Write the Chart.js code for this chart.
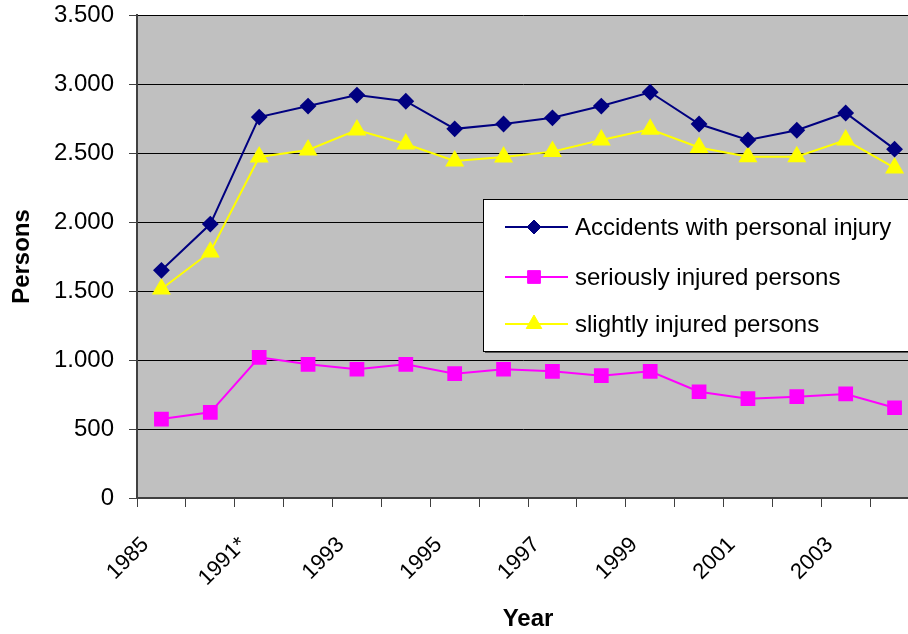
<!DOCTYPE html>
<html>
<head>
<meta charset="utf-8">
<script src="https://cdn.jsdelivr.net/npm/chart.js@4/dist/chart.umd.min.js"></script>
<style>
  html, body { margin: 0; padding: 0; background: #fff; overflow: hidden; }
  #wrap { width: 908px; height: 634px; }
</style>
</head>
<body>
<div id="wrap"><canvas id="myChart"></canvas></div>
<script>
var years = ['1985', '1990', '1991*', '1992', '1993', '1994', '1995', '1996', '1997', '1998', '1999', '2000', '2001', '2002', '2003', '2004'];
var accidents = [1650, 1985, 2760, 2840, 2920, 2875, 2675, 2710, 2755, 2840, 2940, 2710, 2595, 2665, 2790, 2528];
var seriously = [572, 621, 1019, 969, 933, 969, 901, 933, 918, 886, 918, 770, 720, 734, 754, 654];
var slightly = [1514, 1783, 2471, 2522, 2667, 2565, 2442, 2471, 2510, 2594, 2672, 2540, 2473, 2473, 2594, 2392];
var yTicks = [0, 500, 1000, 1500, 2000, 2500, 3000, 3500];

var FONT = '"Liberation Sans", Arial, sans-serif';

function fmt(v) {
  return String(v).replace(/\B(?=(\d{3})+(?!\d))/g, '.');
}

// in the original the plot area is cut off by the right edge of the picture
var stretchRight = {
  id: 'stretchRight',
  afterLayout: function(chart) {
    var a = chart.chartArea, xs = chart.scales.x;
    xs.right = xs.left + 782;
    xs.width = xs.right - xs.left;
    xs.configure();
    a.right = xs.right;
    a.width = a.right - a.left;
  }
};

// grey plot background
var plotBg = {
  id: 'plotBg',
  beforeDraw: function(chart) {
    var a = chart.chartArea, ctx = chart.ctx;
    ctx.save();
    ctx.fillStyle = '#c0c0c0';
    ctx.fillRect(a.left, a.top, a.right - a.left, a.bottom - a.top);
    ctx.restore();
  }
};

// legend box drawn inside the plot, like the original
var boxLegend = {
  id: 'boxLegend',
  afterDraw: function(chart) {
    var ctx = chart.ctx, a = chart.chartArea;
    var x = a.left + 346, y = 199, w = 430, h = 152;
    var rowsY = [227, 277, 324];
    ctx.save();
    ctx.fillStyle = '#555';
    ctx.fillRect(x + 2, y + 2, w, h);
    ctx.fillStyle = '#fff';
    ctx.fillRect(x, y, w, h);
    ctx.strokeStyle = '#000';
    ctx.lineWidth = 1;
    ctx.strokeRect(x + 0.5, y + 0.5, w, h);
    chart.data.datasets.forEach(function(ds, i) {
      var cy = rowsY[i];
      ctx.strokeStyle = ds.borderColor;
      ctx.lineWidth = 2;
      ctx.beginPath();
      ctx.moveTo(x + 22, cy);
      ctx.lineTo(x + 85, cy);
      ctx.stroke();
      ctx.fillStyle = ds.pointBackgroundColor;
      ctx.strokeStyle = ds.pointBorderColor;
      ctx.lineWidth = 1;
      Chart.helpers.drawPoint(ctx, {
        pointStyle: ds.pointStyle,
        radius: ds.pointRadius,
        borderWidth: 1
      }, x + 51, cy);
      ctx.fillStyle = '#000';
      ctx.font = '24px ' + FONT;
      ctx.textBaseline = 'middle';
      ctx.fillText(ds.label, x + 92, cy + 1);
    });
    ctx.restore();
  }
};

var ctx = document.getElementById('myChart').getContext('2d');
var myChart = new Chart(ctx, {
  type: 'line',
  data: {
    labels: years,
    datasets: [{
      label: 'Accidents with personal injury',
      data: accidents,
      borderColor: '#000080',
      pointBackgroundColor: '#000080',
      pointBorderColor: '#000080',
      pointStyle: 'rectRot',
      pointRadius: 7,
      borderWidth: 2
    },
    {
      label: 'seriously injured persons',
      data: seriously,
      borderColor: '#ff00ff',
      pointBackgroundColor: '#ff00ff',
      pointBorderColor: '#ff00ff',
      pointStyle: 'rect',
      pointRadius: 9,
      borderWidth: 2
    },
    {
      label: 'slightly injured persons',
      data: slightly,
      borderColor: '#ffff00',
      pointBackgroundColor: '#ffff00',
      pointBorderColor: '#ffff00',
      pointStyle: 'triangle',
      pointRadius: 9,
      borderWidth: 2
    }]
  },
  options: {
    responsive: true,
    maintainAspectRatio: false,
    animation: false,
    layout: { padding: { top: 15, right: 0, left: 0, bottom: 0 } },
    plugins: {
      legend: { display: false },
      tooltip: { enabled: false }
    },
    scales: {
      x: {
        offset: true,
        afterFit: function(s) { s.height = 136; },
        grid: {
          offset: true,
          drawOnChartArea: false,
          drawTicks: true,
          tickLength: 9,
          color: '#404040',
          lineWidth: 1
        },
        border: { color: '#404040', width: 2 },
        ticks: {
          autoSkip: false,
          maxRotation: 45,
          minRotation: 45,
          color: '#000',
          padding: 25,
          labelOffset: -16,
          font: { family: FONT, size: 22 },
          callback: function(v, i) { return i % 2 == 0 ? years[i] : ''; }
        },
        title: {
          display: true,
          text: 'Year',
          color: '#000',
          padding: { top: 0, bottom: 0 },
          font: { family: FONT, size: 24, weight: 'bold' }
        }
      },
      y: {
        min: 0,
        max: 3500,
        afterFit: function(s) {
          s.width = 137;
          s.paddingTop = 0;
          s.paddingBottom = 0;
        },
        afterBuildTicks: function(s) {
          s.ticks = yTicks.map(function(v) { return {value: v}; });
        },
        grid: {
          color: '#000',
          lineWidth: 1,
          tickLength: 8,
          tickColor: '#404040'
        },
        border: { color: '#404040', width: 2 },
        ticks: {
          color: '#000',
          padding: 15,
          font: { family: FONT, size: 24 },
          callback: function(v) { return fmt(v); }
        },
        title: {
          display: true,
          text: 'Persons',
          color: '#000',
          padding: { top: 8, bottom: 0 },
          font: { family: FONT, size: 24, weight: 'bold' }
        }
      }
    }
  },
  plugins: [stretchRight, plotBg, boxLegend]
});
</script>
</body>
</html>
